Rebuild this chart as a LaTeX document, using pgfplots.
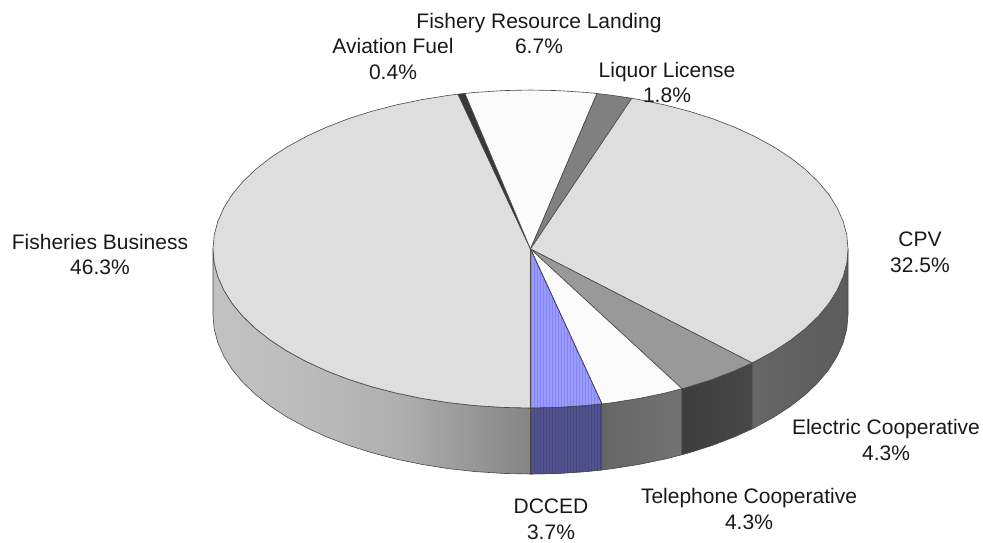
\documentclass[border=0pt]{standalone}
\usepackage{fontspec}
\setmainfont{Liberation Sans}
\usepackage{pgfplots}
\pgfplotsset{compat=1.18}
\usetikzlibrary{patterns}

\definecolor{edge}{HTML}{484848}
\definecolor{lightface}{HTML}{DEDEDE}
\definecolor{whiteface}{HTML}{FBFBFB}
\definecolor{blueface}{HTML}{9A9AFF}
\definecolor{bluestripe}{HTML}{8686F0}
\definecolor{bluewall}{HTML}{52528E}
\definecolor{bluewallstripe}{HTML}{46467E}

\tikzset{lbl/.style={align=center, font=\fontsize{21}{25.5}\selectfont, text=black!90}}

% wall shadings, 25bp and 75bp are the left and right ends of the shape
\pgfdeclarehorizontalshading{fishwall}{100bp}{
  color(0bp)=(black!24); color(25bp)=(black!24); color(42bp)=(black!27);
  color(55bp)=(black!32); color(65bp)=(black!40); color(75bp)=(black!48);
  color(100bp)=(black!48)}
\pgfdeclarehorizontalshading{telwall}{100bp}{
  color(0bp)=(black!60); color(25bp)=(black!60); color(75bp)=(black!55); color(100bp)=(black!55)}
\pgfdeclarehorizontalshading{elecwall}{100bp}{
  color(0bp)=(black!76); color(25bp)=(black!76); color(75bp)=(black!72); color(100bp)=(black!72)}
\pgfdeclarehorizontalshading{cpvwall}{100bp}{
  color(0bp)=(black!60); color(25bp)=(black!60); color(75bp)=(black!64); color(100bp)=(black!64)}

\begin{document}
\begin{tikzpicture}
\useasboundingbox (0,0) rectangle (983pt,542pt);
\clip (0,0) rectangle (983pt,542pt);
\begin{axis}[
  at={(0,0)}, anchor=south west,
  scale only axis, width=983pt, height=542pt,
  xmin=0, xmax=983, ymin=0, ymax=542,
  y dir=reverse,
  hide axis,
  clip=false,
  every axis plot/.append style={line width=0.6pt, draw=edge, line join=round},
]
% side walls
\addplot[shading=fishwall] coordinates {
 (213,249) (214.2,262.9) (217.8,276.6) (223.8,290.1) (232.1,303.4) (242.7,316.2) (255.5,328.5)
 (270.4,340.2) (287.3,351.2) (306,361.4) (326.4,370.8) (348.4,379.3) (371.7,386.7) (396.3,393.1)
 (421.9,398.4) (448.3,402.6) (475.4,405.6) (502.8,407.4) (530.5,408)
 (530.5,474) (502.8,473.4) (475.4,471.6) (448.3,468.6) (421.9,464.4) (396.3,459.1) (371.7,452.7)
 (348.4,445.3) (326.4,436.8) (306,427.4) (287.3,417.2) (270.4,406.2) (255.5,394.5) (242.7,382.2)
 (232.1,369.4) (223.8,356.1) (217.8,342.6) (214.2,328.9) (213,315) (213,249)};
\addplot[fill=bluewall, postaction={pattern=vertical lines, pattern color=bluewallstripe}] coordinates {
 (530.5,408) (558.2,407.4) (585.6,405.6) (601.9,403.9)
 (601.9,469.9) (585.6,471.6) (558.2,473.4) (530.5,474) (530.5,408)};
\addplot[shading=telwall] coordinates {
 (601.9,403.9) (612.7,402.6) (639.1,398.4) (664.7,393.1) (682,388.7)
 (682,454.7) (664.7,459.1) (639.1,464.4) (612.7,468.6) (601.9,469.9) (601.9,403.9)};
\addplot[shading=elecwall] coordinates {
 (682,388.7) (689.3,386.7) (712.6,379.3) (734.6,370.8) (752.1,362.9)
 (752.1,428.9) (734.6,436.8) (712.6,445.3) (689.3,452.7) (682,454.7) (682,388.7)};
\addplot[shading=cpvwall] coordinates {
 (752.1,362.9) (755,361.4) (773.7,351.2) (790.6,340.2) (805.5,328.5) (818.3,316.2) (828.9,303.4)
 (837.2,290.1) (843.2,276.6) (846.8,262.9) (848,249)
 (848,315) (846.8,328.9) (843.2,342.6) (837.2,356.1) (828.9,369.4) (818.3,382.2) (805.5,394.5)
 (790.6,406.2) (773.7,417.2) (755,427.4) (752.1,428.9) (752.1,362.9)};
% top face, Fisheries Business
\addplot[fill=lightface] coordinates {
 (530.5,249) (458,94.2) (448.3,95.4) (421.9,99.6) (396.3,104.9) (371.7,111.3) (348.4,118.7)
 (326.4,127.2) (306,136.6) (287.3,146.8) (270.4,157.8) (255.5,169.5) (242.7,181.8) (232.1,194.6)
 (223.8,207.9) (217.8,221.4) (214.2,235.1) (213,249) (214.2,262.9) (217.8,276.6) (223.8,290.1)
 (232.1,303.4) (242.7,316.2) (255.5,328.5) (270.4,340.2) (287.3,351.2) (306,361.4) (326.4,370.8)
 (348.4,379.3) (371.7,386.7) (396.3,393.1) (421.9,398.4) (448.3,402.6) (475.4,405.6) (502.8,407.4)
 (530.5,408) (530.5,249)};
% Aviation Fuel
\addplot[fill=black!78] coordinates {(530.5,249) (465,93.4) (458,94.2) (530.5,249)};
% Fishery Resource Landing
\addplot[fill=whiteface] coordinates {
 (530.5,249) (597,93.5) (585.6,92.4) (558.2,90.6) (530.5,90) (502.8,90.6) (475.4,92.4) (465,93.4) (530.5,249)};
% Liquor License
\addplot[fill=black!50] coordinates {(530.5,249) (631.8,98.3) (612.7,95.4) (597,93.5) (530.5,249)};
% CPV
\addplot[fill=lightface] coordinates {
 (530.5,249) (752.1,362.9) (755,361.4) (773.7,351.2) (790.6,340.2) (805.5,328.5) (818.3,316.2)
 (828.9,303.4) (837.2,290.1) (843.2,276.6) (846.8,262.9) (848,249) (846.8,235.1) (843.2,221.4)
 (837.2,207.9) (828.9,194.6) (818.3,181.8) (805.5,169.5) (790.6,157.8) (773.7,146.8) (755,136.6)
 (734.6,127.2) (712.6,118.7) (689.3,111.3) (664.7,104.9) (639.1,99.6) (631.8,98.3) (530.5,249)};
% Electric Cooperative
\addplot[fill=black!40] coordinates {
 (530.5,249) (682,388.7) (689.3,386.7) (712.6,379.3) (734.6,370.8) (752.1,362.9) (530.5,249)};
% Telephone Cooperative
\addplot[fill=whiteface] coordinates {
 (530.5,249) (601.9,403.9) (612.7,402.6) (639.1,398.4) (664.7,393.1) (682,388.7) (530.5,249)};
% DCCED
\addplot[fill=blueface, postaction={pattern=vertical lines, pattern color=bluestripe}] coordinates {
 (530.5,249) (530.5,408) (558.2,407.4) (585.6,405.6) (601.9,403.9) (530.5,249)};

\node[lbl] at (axis cs:539,33.5) {Fishery Resource Landing\\6.7\%};
\node[lbl] at (axis cs:393,59) {Aviation Fuel\\0.4\%};
\node[lbl] at (axis cs:667,82.5) {Liquor License\\1.8\%};
\node[lbl] at (axis cs:920,252.5) {CPV\\32.5\%};
\node[lbl] at (axis cs:100,254.5) {Fisheries Business\\46.3\%};
\node[lbl] at (axis cs:886,440) {Electric Cooperative\\4.3\%};
\node[lbl] at (axis cs:749,509) {Telephone Cooperative\\4.3\%};
\node[lbl] at (axis cs:551,519.5) {DCCED\\3.7\%};
\end{axis}
\end{tikzpicture}
\end{document}
